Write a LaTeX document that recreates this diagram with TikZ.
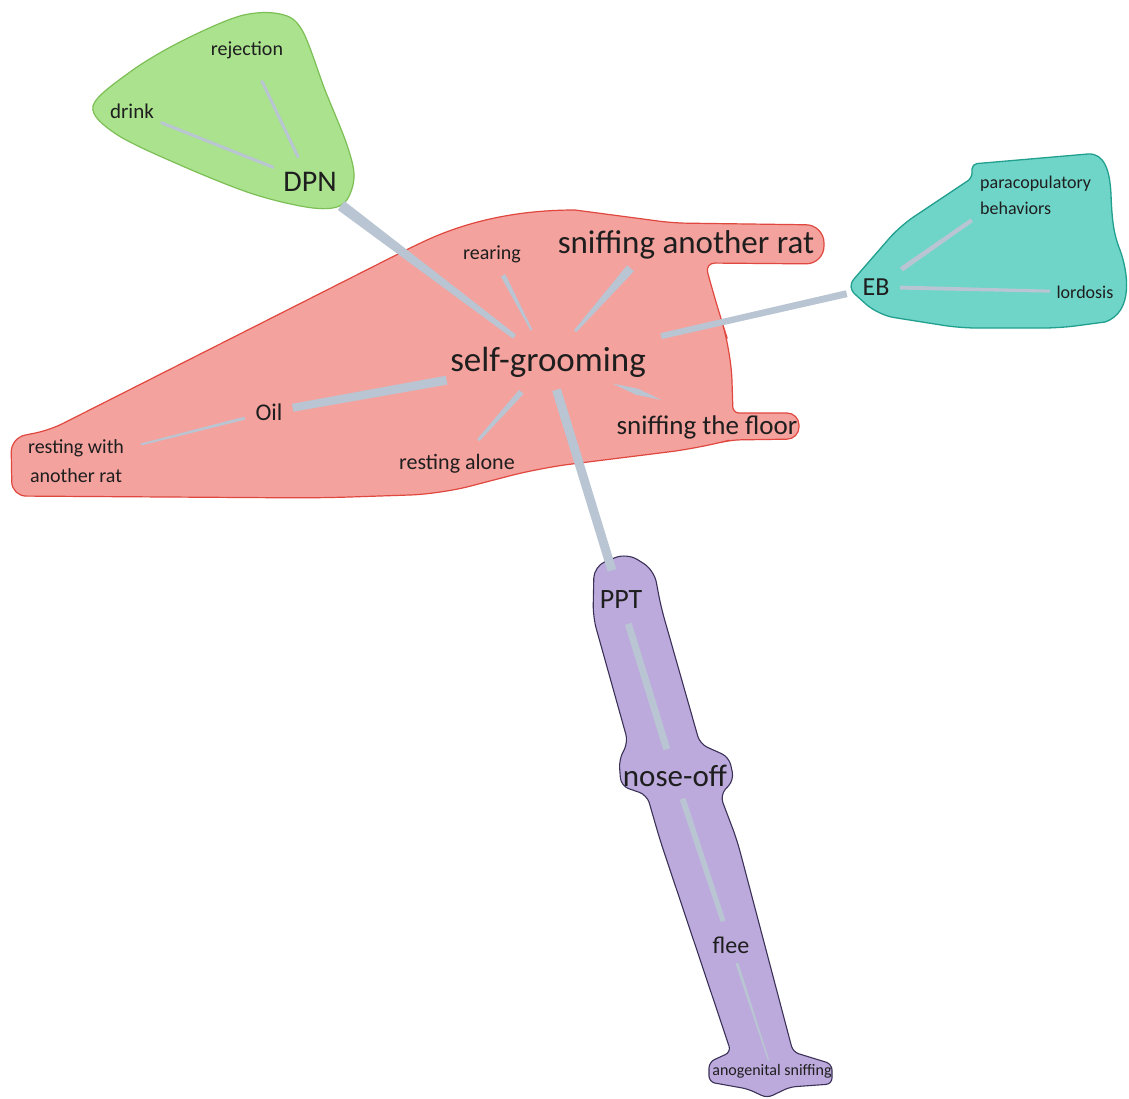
\documentclass[tikz,border=0pt]{standalone}
\usepackage{fontspec}
\setmainfont{Carlito}
\usetikzlibrary{calc}
\definecolor{redfill}{HTML}{F4A29E}
\definecolor{redline}{HTML}{E0483F}
\definecolor{greenfill}{HTML}{AAE28E}
\definecolor{greenline}{HTML}{7CBF55}
\definecolor{tealfill}{HTML}{6FD5C8}
\definecolor{tealline}{HTML}{22A08F}
\definecolor{purpfill}{HTML}{BCAADC}
\definecolor{purpline}{HTML}{3B3158}
\definecolor{conncol}{HTML}{B9C5D2}
\definecolor{txtcol}{HTML}{1E1E1E}
\newcommand\fsz[2]{\fontsize{#1}{#2}\selectfont}
% tapered connector: from #1 to #2, half widths #3 (at #1) and #4 (at #2), gaps #5 and #6
\newcommand\tapercon[6]{%
  \coordinate (tp) at ($(#1)!#5!(#2)$);
  \coordinate (tq) at ($(#2)!#6!(#1)$);
  \fill[conn] ($(tp)!#3!90:(tq)$) -- ($(tq)!#4!-90:(tp)$) -- ($(tq)!#4!90:(tp)$) -- ($(tp)!#3!-90:(tq)$) -- cycle;}
% spindle connector: pointed at both ends, half width #3 in the middle
\newcommand\spindlecon[5]{%
  \coordinate (tp) at ($(#1)!#4!(#2)$);
  \coordinate (tq) at ($(#2)!#5!(#1)$);
  \coordinate (tm) at ($(tp)!0.5!(tq)$);
  \fill[conn] (tp) -- ($(tm)!#3!90:(tq)$) -- (tq) -- ($(tm)!#3!-90:(tq)$) -- cycle;}
\begin{document}
\begin{tikzpicture}[x=1pt,y=-1pt,
  lbl/.style={inner sep=0pt,text=txtcol,font=\fsz{#1}{#1}},
  conn/.style={fill=conncol},
  redblob/.style={fill=redfill,draw=redline,line width=1.2pt},
  greenblob/.style={fill=greenfill,draw=greenline,line width=1.2pt},
  tealblob/.style={fill=tealfill,draw=tealline,line width=1.3pt},
  purpblob/.style={fill=purpfill,draw=purpline,line width=1.1pt}]
\useasboundingbox (0,0) rectangle (1129,1099);
\fill[white] (0,0) rectangle (1129,1099);

% blobs
\draw[greenblob] plot[smooth cycle,tension=0.55] coordinates {
  (93,106) (130,72) (180,42) (240,16) (280,14) (302,30) (325,90) (347,145)
  (354,178) (343,204) (313,208) (253,194) (180,165) (116,134)};
\draw[tealblob,rounded corners=16pt] (847,287) -- (900,226) [rounded corners=5pt] -- (972,178)
  -- (972,164) [rounded corners=0pt] -- (1088,154)
  .. controls (1104,153) and (1110,170) .. (1111,195)
  .. controls (1112,222) and (1114,235) .. (1120,250)
  .. controls (1128,272) and (1134,312) .. (1105,322)
  [rounded corners=16pt] -- (1060,328) -- (960,328) -- (878,315) [rounded corners=10pt] -- cycle;
\draw[redblob,rounded corners=14pt] (11,438) -- (50,430) -- (410,248)
  [rounded corners=0pt] .. controls (465,222) and (515,210) .. (575,210)
  [rounded corners=14pt] -- (673,223) [rounded corners=18pt] -- (824,225) -- (824,264) [rounded corners=10pt] -- (705,263)
  [rounded corners=30pt] -- (718,310) -- (731,350) [rounded corners=6pt] -- (733,413)
  [rounded corners=12pt] -- (799,413) -- (799,439) [rounded corners=10pt] -- (730,440)
  [rounded corners=30pt] -- (700,448) -- (540,468) -- (440,494)
  -- (320,498) [rounded corners=14pt] -- (12,496) -- cycle;
\draw[purpblob,rounded corners=12pt] (594,566) -- (627,553) -- (654,570) -- (661,607) [rounded corners=8pt] -- (700,744)
  -- (729,757) -- (734,780) -- (720,795) [rounded corners=12pt] -- (737,840) [rounded corners=6pt] -- (793,1052)
  -- (832,1064) -- (832,1084) -- (790,1087) -- (767,1098) -- (748,1089)
  -- (709,1082) -- (709,1062) -- (731,1052) [rounded corners=12pt] -- (660,840) [rounded corners=8pt] -- (647,795)
  -- (621,786) -- (619,760) -- (628,742) [rounded corners=12pt] -- (593,617) -- cycle;

% nodes
\node[lbl=35] (sg) at (548,362) {self-grooming};
\node[lbl=33] (sar) at (686,245) {sniffing another rat};
\node[lbl=20] (rear) at (492,254) {rearing};
\node[lbl=22] (ralone) at (457,464) {resting alone};
\node[lbl=27] (sfloor) at (707,427) {sniffing the floor};
\node[lbl=24] (oil) at (269,412) {Oil};
\node[lbl=20,font=\fsz{20}{29},align=center] (rwith) at (76,461) {resting with\\another rat};
\node[lbl=30] (dpn) at (310,182) {DPN};
\node[lbl=21] (drink) at (132,111) {drink};
\node[lbl=20] (rej) at (247,50) {rejection};
\node[lbl=26] (eb) at (876,287) {EB};
\node[lbl=18,font=\fsz{18}{26},align=left,anchor=west] (para) at (980,195) {paracopulatory\\behaviors};
\node[lbl=18] (lord) at (1085,292) {lordosis};
\node[lbl=28] (ppt) at (621,600) {PPT};
\node[lbl=31] (nose) at (675,776) {nose-off};
\node[lbl=24] (flee) at (731,945) {flee};
\node[lbl=16] (ano) at (772,1071) {anogenital sniffing};
\coordinate (sarend) at ($(sar.center)+(-35,0)$);

% connectors
\tapercon{dpn.center}{sg.center}{5.5pt}{2.5pt}{39pt}{42pt}
\tapercon{rear.center}{sg.center}{2.5pt}{1pt}{24pt}{36pt}
\tapercon{sarend}{sg.center}{4.5pt}{1.5pt}{31pt}{41pt}
\tapercon{eb.center}{sg.center}{3.5pt}{3pt}{30pt}{116pt}
\spindlecon{sg.center}{sfloor.north}{3.2pt}{68pt}{48pt}
\tapercon{ralone.center}{sg.center}{1.5pt}{3pt}{32pt}{40pt}
\tapercon{sg.center}{ppt.center}{4.5pt}{4.5pt}{29pt}{31pt}
\tapercon{oil.center}{sg.center}{4pt}{4.5pt}{24pt}{103pt}
\tapercon{oil.center}{rwith.center}{1.5pt}{1pt}{25pt}{67pt}
\tapercon{drink.center}{dpn.center}{1.5pt}{1.5pt}{31pt}{39pt}
\tapercon{rej.center}{dpn.center}{1.5pt}{1.5pt}{34pt}{27pt}
\tapercon{eb.center}{para.south west}{2.5pt}{2pt}{31pt}{10pt}
\tapercon{eb.center}{lord.center}{2pt}{1.5pt}{24pt}{35pt}
\tapercon{ppt.center}{nose.center}{3.5pt}{3.5pt}{25pt}{28pt}
\tapercon{nose.center}{flee.center}{3pt}{2.5pt}{24pt}{25pt}
\tapercon{flee.center}{ano.center}{1.5pt}{0.7pt}{19pt}{11pt}
\end{tikzpicture}
\end{document}
